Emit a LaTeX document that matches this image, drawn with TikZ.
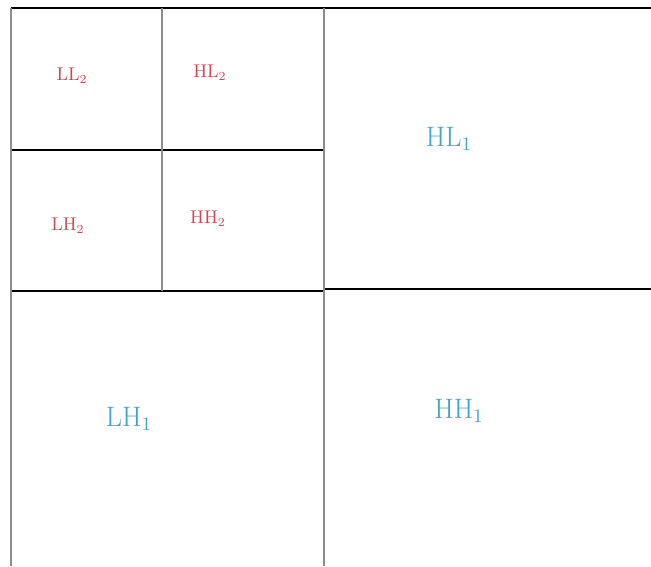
\documentclass[tikz,border=0pt]{standalone}
\usepackage{tikz}
\usetikzlibrary{positioning}
\definecolor{subred}{RGB}{205, 70, 80}
\definecolor{subcyan}{RGB}{60, 165, 200}
\definecolor{gridgray}{RGB}{140, 140, 140}

\begin{document}
\begin{tikzpicture}[x=0.02cm, y=-0.02cm,
				hline/.style={draw=black, line width=0.8pt},
				vline/.style={draw=gridgray, line width=1.1pt},
				lvl2/.style={text=subred, font=\fontsize{10.5}{12}\selectfont, inner sep=1pt},
				lvl1/.style={text=subcyan, font=\fontsize{16}{18}\selectfont, inner sep=1pt}]
				
				\useasboundingbox (0,0) rectangle (651,566);
				
				% band grid
				\draw[hline] (11,8) -- (651,8);
				\draw[hline] (11,150) -- (324,150);
				\draw[hline] (11,291) -- (324,291);
				\draw[hline] (324,289) -- (651,289);
				\draw[vline] (11,8) -- (11,566);
				\draw[vline] (162,8) -- (162,291);
				\draw[vline] (324,8) -- (324,566);
				
				% second level
				\node[lvl2] (ll2) at (72,76) {LL$_2$};
				\node[lvl2] (hl2) at (210,73) {HL$_2$};
				\node[lvl2] (lh2) at (68,226) {LH$_2$};
				\node[lvl2] (hh2) at (208,219) {HH$_2$};
				
				% first level
				\node[lvl1] (hl1) at (449,139) {HL$_1$};
				\node[lvl1] (lh1) at (129,419) {LH$_1$};
				\node[lvl1] (hh1) at (459,411) {HH$_1$};
			\end{tikzpicture}
\end{document}
